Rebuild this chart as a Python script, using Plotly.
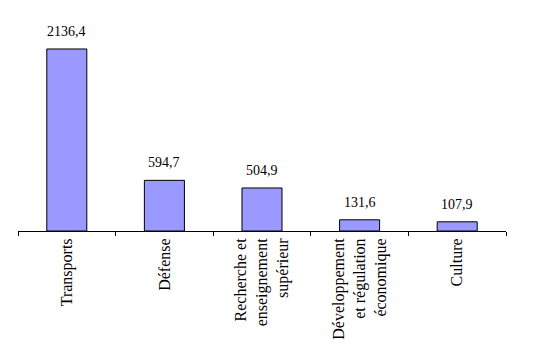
import plotly.graph_objects as go

categories = ["Transports", "Défense", "Recherche et<br>enseignement<br>supérieur",
              "Développement<br>et régulation<br>économique", "Culture"]
values = [2136.4, 594.7, 504.9, 131.6, 107.9]
labels = [f"{v:.1f}".replace(".", ",") for v in values]

SERIF = "Liberation Serif, Times New Roman, serif"

fig = go.Figure(go.Bar(
    x=categories, y=values,
    marker=dict(color="#9999FF", line=dict(color="black", width=1)),
    cliponaxis=False,
))
for c, v, t in zip(categories, values, labels):
    fig.add_annotation(x=c, y=v, text=t, showarrow=False, yanchor="bottom",
                       yshift=8, font=dict(family=SERIF, size=14, color="black"))
fig.update_layout(
    width=544, height=361,
    margin=dict(l=18, r=38, t=18, b=130),
    paper_bgcolor="white", plot_bgcolor="white",
    bargap=0.59, showlegend=False,
    font=dict(family=SERIF, size=14, color="black"),
)
fig.update_xaxes(showline=True, linecolor="black", linewidth=1, ticks="outside",
                 tickson="boundaries", ticklen=4, tickcolor="black", tickangle=-90,
                 automargin=False,
                 tickfont=dict(family=SERIF, size=16, color="black"))
fig.update_yaxes(visible=False, range=[0, 2500], showgrid=False)
fig.write_html("out.html", config={"displayModeBar": False},
               post_script="document.body.style.margin='0';document.body.style.overflow='hidden';")
